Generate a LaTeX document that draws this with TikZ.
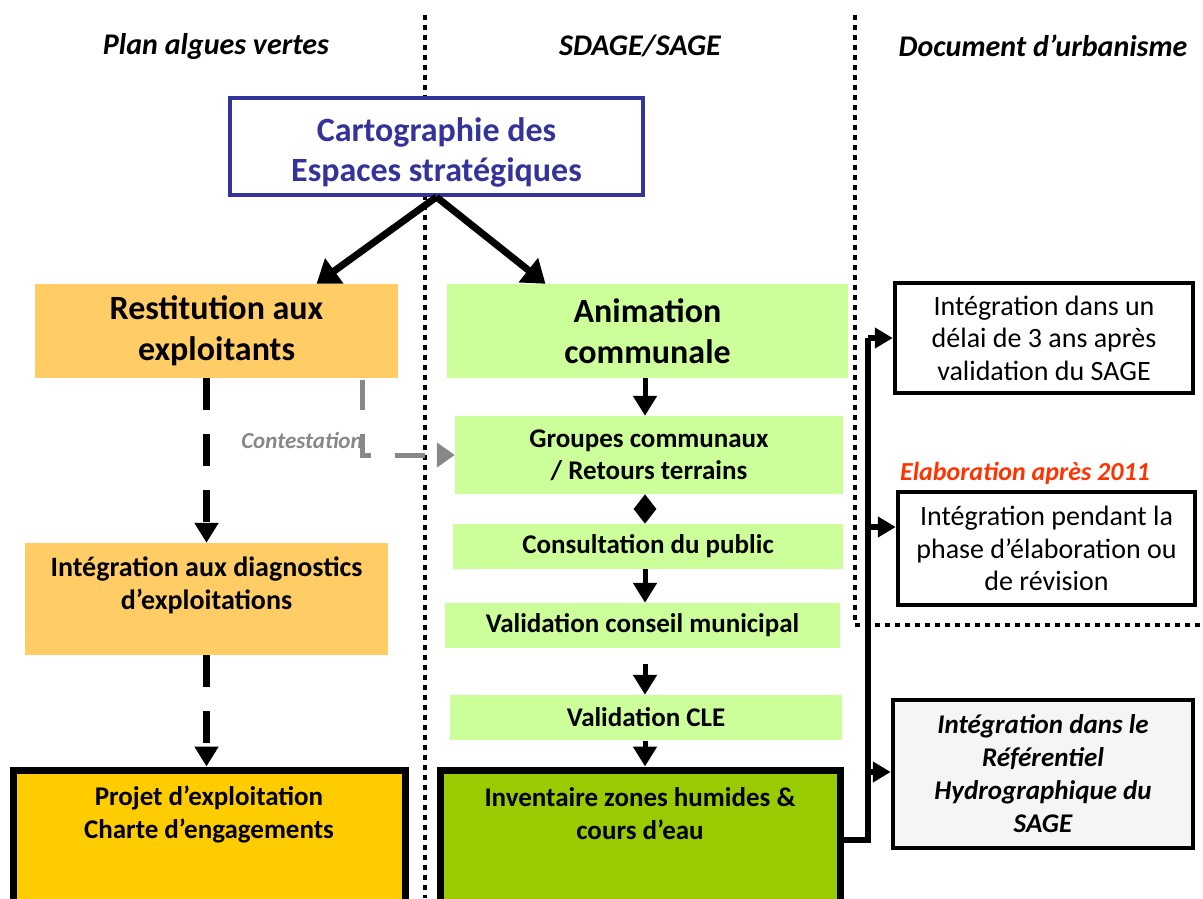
\documentclass[tikz,border=0pt]{standalone}
\usepackage{fontspec}
\setmainfont{Carlito}
\usetikzlibrary{arrows.meta,calc}
\definecolor{cblue}{HTML}{333399}
\definecolor{corange}{HTML}{FFCC66}
\definecolor{cgreen}{HTML}{CCFF99}
\definecolor{cdgreen}{HTML}{99CC00}
\definecolor{cgold}{HTML}{FFCC00}
\definecolor{cgray}{HTML}{888888}
\definecolor{cred}{HTML}{FF3300}
\definecolor{cbox}{HTML}{F5F5F5}
\tikzset{
  hdr/.style={font=\fontsize{30}{34}\selectfont\bfseries\itshape},
  rbox/.style={draw=none,fill=#1,inner sep=0pt,align=center,font=\bfseries\fontsize{27}{32}\selectfont},
  btext/.style={inner sep=0pt,align=center,font=\bfseries\fontsize{27}{33}\selectfont},
  sepline/.style={line width=4.5pt,dash pattern=on 4.5pt off 5.5pt},
  bigarrow/.style={line width=7pt,-{Triangle[length=22pt,width=30pt]}},
  midarrow/.style={line width=5pt,-{Triangle[length=20pt,width=23pt]}},
  dasharrow/.style={line width=7pt,dash pattern=on 32pt off 24pt,-{Triangle[length=20pt,width=23pt]}},
  grayarrow/.style={line width=5pt,cgray,dash pattern=on 30pt off 24pt,-{Triangle[length=18pt,width=24pt]}},
  rarrow/.style={line width=6pt,-{Triangle[length=18pt,width=20pt]}},
  wbox/.style={draw,line width=4.5pt,fill=white,inner sep=0pt,align=center,font=\fontsize{28}{32.5}\selectfont}
}
\begin{document}
\begin{tikzpicture}[x=1pt,y=-1pt]
\useasboundingbox (0,0) rectangle (1203,898);
% separators
\draw[sepline] (425,15) -- (425,898);
\draw[sepline] (855,15) -- (855,625);
\draw[sepline] (855,625) -- (1203,625);
% headers
\node[hdr] (h1) at (216,46) {Plan algues vertes};
\node[hdr] (h2) at (640,46) {SDAGE/SAGE};
\node[hdr] (h3) at (1043,46) {Document d’urbanisme};
% top box
\node[draw=cblue,line width=4pt,fill=white,text=cblue,minimum width=413pt,minimum height=97pt,inner sep=0pt,align=center,font=\bfseries\fontsize{34}{40}\selectfont] (carto) at (436.5,146.5) {\rule{0pt}{35pt}Cartographie des\\Espaces stratégiques};
% left column
\node[rbox=corange,minimum width=363pt,minimum height=94pt,font=\bfseries\fontsize{34}{41}\selectfont] (rest) at (216.5,331) {Restitution aux\\exploitants};
\node[rbox=corange,minimum width=363pt,minimum height=112pt] (diag) at (206.5,599) {};
\node[btext,font=\bfseries\fontsize{28}{33}\selectfont] (diagt) at (206.5,585) {Intégration aux diagnostics\\d’exploitations};
\node[draw,line width=7pt,fill=cgold,minimum width=392pt,minimum height=140pt,inner sep=0pt] (proj) at (209,840) {};
\node[btext] (projt) at (209,814) {Projet d’exploitation\\Charte d’engagements};
% middle column
\node[rbox=cgreen,minimum width=401pt,minimum height=94pt,font=\bfseries\fontsize{34}{41}\selectfont] (anim) at (647.5,331) {Animation\\communale};
\node[rbox=cgreen,minimum width=388pt,minimum height=78pt] (grp) at (649,455) {Groupes communaux\\/ Retours terrains};
\node[rbox=cgreen,minimum width=390pt,minimum height=45pt] (cons) at (648,546.5) {Consultation du public};
\node[rbox=cgreen,minimum width=395pt,minimum height=45pt] (valc) at (642.5,625.5) {Validation conseil municipal};
\node[rbox=cgreen,minimum width=392pt,minimum height=45pt] (cle) at (646,717.5) {Validation CLE};
\node[draw,line width=7pt,fill=cdgreen,minimum width=400pt,minimum height=140pt,inner sep=0pt] (inv) at (640,840) {};
\node[btext] (invt) at (640,814) {Inventaire zones humides \&\\cours d’eau};
% right column
\node[wbox,minimum width=298pt,minimum height=110pt] (b1) at (1044,338) {Intégration dans un\\délai de 3 ans après\\validation du SAGE};
\node[font=\bfseries\itshape\fontsize{26}{30}\selectfont,text=cred] (elab) at (1025,473) {Elaboration après 2011};
\node[wbox,minimum width=297pt,minimum height=113pt] (b2) at (1046.5,548.5) {Intégration pendant la\\phase d’élaboration ou\\de révision};
\node[wbox,fill=cbox,minimum width=300pt,minimum height=148pt,font=\bfseries\itshape\fontsize{27}{33}\selectfont] (b3) at (1043,774) {Intégration dans le\\Référentiel\\Hydrographique du\\SAGE};
% arrows from carto
\draw[bigarrow] (carto.south) -- ([xshift=100pt]rest.north);
\draw[bigarrow] (carto.south) -- ([xshift=-102pt]anim.north);
% left dashed
\draw[dasharrow] (diag.north |- rest.south) -- (diag.north);
\draw[dasharrow] (diag.south) -- (diag.south |- proj.north);
% contestation
\coordinate (cg1) at (362,380);
\coordinate (cg2) at (362,455);
\draw[grayarrow] (cg1) -- (cg2) -- (grp.west |- cg2);
\node[font=\bfseries\itshape\fontsize{23}{26}\selectfont,text=cgray] (cont) at (302,440) {Contestation};
% green column arrows
\coordinate (v1) at (645,664);
\coordinate (v2) at (645,741);
\draw[midarrow] (anim.south -| 645,0) -- (grp.north -| 645,0);
\draw[line width=5pt,{Triangle[length=15pt,width=22pt]}-{Triangle[length=15pt,width=22pt]}] (grp.south -| 645,0) -- (cons.north -| 645,0);
\draw[midarrow] (cons.south -| 645,0) -- (valc.north -| 645,0);
\draw[midarrow] (v1) -- (cle.north -| v1);
\draw[midarrow] (v2) -- (inv.north -| v2);
% right connectors
\coordinate (j1) at (868,338);
\coordinate (j2) at (868,527);
\coordinate (j3) at (868,772);
\draw[line width=6pt] (inv.east) -| (j1);
\draw[rarrow] (j1) -- (b1.west);
\draw[rarrow] (j2) -- (b2.west |- j2);
\draw[rarrow] (j3) -- (b3.west |- j3);
\end{tikzpicture}
\end{document}
